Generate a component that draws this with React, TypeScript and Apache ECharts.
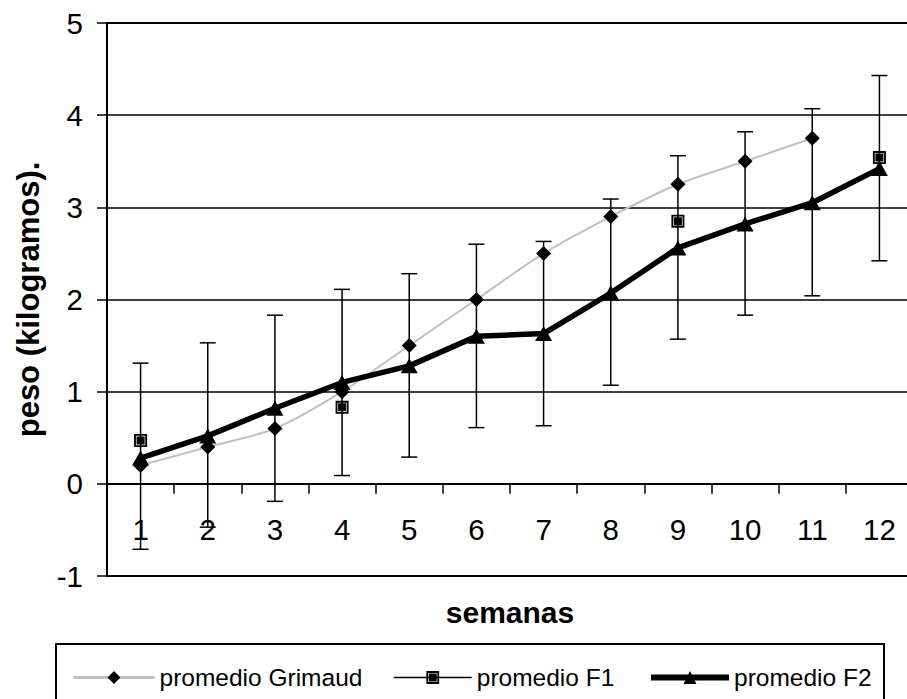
import React, { useEffect, useRef } from "react";
import * as echarts from "echarts";

const categories = ["1", "2", "3", "4", "5", "6", "7", "8", "9", "10", "11", "12"];
const grimaud = [0.2, 0.4, 0.6, 1.0, 1.5, 2.0, 2.5, 2.9, 3.25, 3.5, 3.75, null];
const f1 = [0.47, null, null, 0.83, null, null, null, null, 2.85, null, null, 3.54];
const f2 = [0.28, 0.52, 0.82, 1.1, 1.28, 1.6, 1.63, 2.07, 2.56, 2.82, 3.05, 3.42];
const errHigh = [1.31, 1.53, 1.83, 2.11, 2.28, 2.6, 2.63, 3.09, 3.56, 3.82, 4.07, 4.43];
const errLow = [-0.71, -0.47, -0.19, 0.09, 0.29, 0.61, 0.63, 1.07, 1.57, 1.83, 2.04, 2.42];
const yMin = -1;
const yMax = 5;
const yInterval = 1;

const FONT = "'Liberation Sans', Arial, Helvetica, sans-serif";
const SQUARE = "path://M0,0H14V14H0Z M2,2V12H12V2Z M2.7,2.7H11.3V11.3H2.7Z";

export default function App() {
  const ref = useRef<HTMLDivElement>(null);
  useEffect(() => {
    if (!ref.current) return;
    const chart = echarts.init(ref.current, null, { renderer: "svg" });
    const errData = categories.map((_, i) => [i, errLow[i], errHigh[i]]);
    const legendBase = {
      top: 665,
      padding: 0,
      itemHeight: 16,
      itemGap: 0,
      selectedMode: false,
      textStyle: { fontSize: 24.5, color: "#000", fontFamily: FONT },
    };
    chart.setOption({
      animation: false,
      backgroundColor: "#fff",
      textStyle: { fontFamily: FONT },
      grid: {
        left: 107,
        top: 23,
        width: 806,
        height: 553,
        show: true,
        borderColor: "#000",
        borderWidth: 2,
        backgroundColor: "transparent",
        containLabel: false,
        outerBoundsMode: "none",
      },
      legend: [
        { ...legendBase, left: 72, itemWidth: 81, data: ["promedio Grimaud"], lineStyle: { width: 3 } },
        { ...legendBase, left: 393, itemWidth: 78, data: ["promedio F1"], lineStyle: { width: 1.5 } },
        { ...legendBase, left: 648, itemWidth: 78, data: ["promedio F2"], lineStyle: { width: 6 } },
      ],
      graphic: [
        {
          type: "rect",
          shape: { x: 56, y: 644, width: 828, height: 80 },
          style: { fill: "none", stroke: "#000", lineWidth: 2 },
          z: 0,
        },
      ],
      xAxis: {
        type: "category",
        data: categories,
        boundaryGap: true,
        axisLine: { onZero: true, lineStyle: { color: "#000", width: 2 } },
        axisTick: { show: true, length: 10, alignWithLabel: false, interval: 0, lineStyle: { color: "#000", width: 1.5 } },
        axisLabel: { fontSize: 29.5, color: "#000", margin: -62, interval: 0, fontFamily: FONT },
        splitLine: { show: false },
        name: "semanas",
        nameLocation: "middle",
        nameGap: 21,
        nameTextStyle: { fontSize: 30, fontWeight: "bold", color: "#000", fontFamily: FONT },
      },
      yAxis: {
        type: "value",
        min: yMin,
        max: yMax,
        interval: yInterval,
        axisLine: { show: true, lineStyle: { color: "#000", width: 2 } },
        axisTick: { show: true, length: 10, lineStyle: { color: "#000", width: 1.5 } },
        axisLabel: { fontSize: 29.5, color: "#000", margin: 24, fontFamily: FONT },
        splitLine: { show: true, lineStyle: { color: "#000", width: 1.5 } },
        name: "peso (kilogramos).",
        nameLocation: "middle",
        nameGap: 63,
        nameRotate: 90,
        nameTextStyle: { fontSize: 31, fontWeight: "bold", color: "#000", fontFamily: FONT },
      },
      series: [
        {
          name: "promedio Grimaud",
          type: "line",
          data: grimaud,
          smooth: 0.3,
          connectNulls: false,
          symbol: "diamond",
          symbolSize: 15,
          itemStyle: { color: "#000" },
          lineStyle: { color: "#c0c0c0", width: 2 },
          z: 2,
        },
        {
          name: "promedio F1",
          type: "line",
          data: f1,
          connectNulls: false,
          symbol: SQUARE,
          symbolSize: 13,
          itemStyle: { color: "#000" },
          lineStyle: { color: "#000", width: 1.5 },
          z: 3,
        },
        {
          name: "promedio F2",
          type: "line",
          data: f2,
          symbol: "triangle",
          symbolSize: [17, 15],
          itemStyle: { color: "#000" },
          lineStyle: { color: "#000", width: 5.5 },
          z: 4,
        },
        {
          name: "error",
          type: "custom",
          data: errData,
          z: 5,
          renderItem: (params: any, api: any) => {
            const x = api.value(0);
            const lo = api.coord([x, api.value(1)]);
            const hi = api.coord([x, api.value(2)]);
            const hw = 8;
            const style = { stroke: "#000", lineWidth: 1.5, fill: "none" };
            return {
              type: "group",
              children: [
                { type: "line", shape: { x1: lo[0], y1: lo[1], x2: hi[0], y2: hi[1] }, style },
                { type: "line", shape: { x1: lo[0] - hw, y1: lo[1], x2: lo[0] + hw, y2: lo[1] }, style },
                { type: "line", shape: { x1: hi[0] - hw, y1: hi[1], x2: hi[0] + hw, y2: hi[1] }, style },
              ],
            };
          },
        },
      ],
    });
    return () => chart.dispose();
  }, []);
  return (
    <div
      ref={ref}
      style={{ position: "absolute", left: 0, top: 0, width: 907, height: 699 }}
    />
  );
}
